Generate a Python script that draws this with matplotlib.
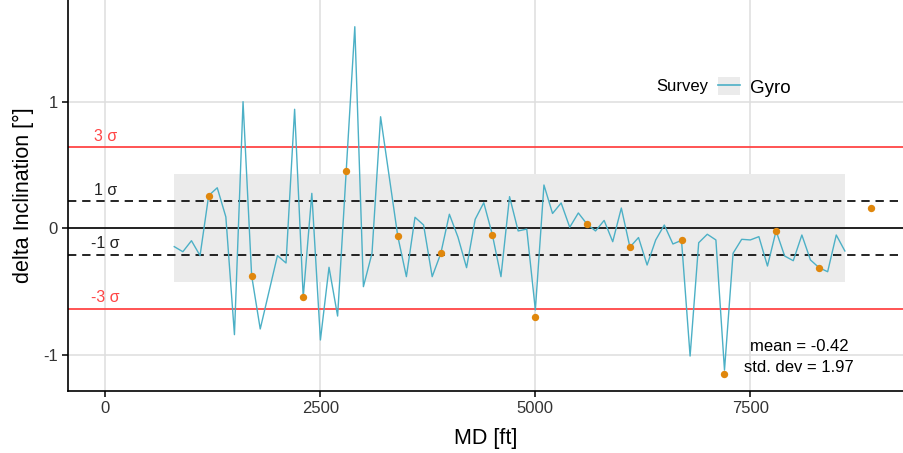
import matplotlib
matplotlib.use("Agg")
import matplotlib.pyplot as plt
import numpy as np
from matplotlib.patches import Rectangle
from matplotlib.lines import Line2D
from matplotlib.legend_handler import HandlerTuple

plt.rcParams['font.family'] = ['Liberation Sans', 'DejaVu Sans']

# Gyro survey: measured depth [ft] and delta inclination [deg]
md = np.array([800, 900, 1000, 1100, 1200, 1300, 1400, 1500, 1600, 1700,
               1800, 2000, 2100, 2200, 2300, 2400, 2500, 2600, 2700, 2800,
               2900, 3000, 3100, 3200, 3400, 3500, 3600, 3700, 3800, 3900,
               4000, 4100, 4200, 4300, 4400, 4500, 4600, 4700, 4800, 4900,
               5000, 5100, 5200, 5300, 5400, 5500, 5600, 5700, 5800, 5900,
               6000, 6100, 6200, 6300, 6400, 6500, 6600, 6700, 6800, 6900,
               7000, 7100, 7200, 7300, 7400, 7500, 7600, 7700, 7800, 7900,
               8000, 8100, 8200, 8300, 8400, 8500, 8600])
d_inc = np.array([-0.145, -0.185, -0.098, -0.216, 0.258, 0.32, 0.09, -0.84, 1.00, -0.374,
                  -0.795, -0.216, -0.274, 0.94, -0.545, 0.276, -0.882, -0.308, -0.693, 0.453,
                  1.592, -0.461, -0.197, 0.881, -0.063, -0.382, 0.087, 0.026, -0.382, -0.199,
                  0.111, -0.07, -0.311, 0.071, 0.202, -0.051, -0.382, 0.25, -0.021, -0.006,
                  -0.645, 0.342, 0.117, 0.2, 0.008, 0.121, 0.034, -0.021, 0.062, -0.106,
                  0.16, -0.149, -0.073, -0.29, -0.092, 0.026, -0.124, -0.095, -1.009, -0.114,
                  -0.047, -0.092, -1.12, -0.197, -0.087, -0.092, -0.066, -0.298, -0.021, -0.219,
                  -0.256, -0.053, -0.25, -0.311, -0.343, -0.053, -0.179])

# highlighted stations (orange dots)
md_pts = np.array([1200, 1700, 2300, 2800, 3400, 3900, 4500, 5000,
                   5600, 6100, 6700, 7200, 7800, 8300, 8900])
d_pts = np.array([0.258, -0.374, -0.545, 0.453, -0.063, -0.199, -0.051, -0.698,
                  0.034, -0.149, -0.095, -1.149, -0.021, -0.311, 0.163])

sigma = 0.213
sig_levels = [3, 1, -1, -3]
sig_labels = ["3 σ", "1 σ", "-1 σ", "-3 σ"]
mean_txt = "mean = -0.42"
std_txt = "std. dev = 1.97"

RED = "#ff4545"
CYAN = "#4cb0c6"
ORANGE = "#e0870c"

fig = plt.figure(figsize=(9.04, 4.53), dpi=100)
ax = fig.add_axes([68/904, 1 - 391/453, (904 - 68)/904, 391/453])

ax.set_xlim(-436, 9288)
ax.set_ylim(-1.285, 1.803)

# 2 sigma band over the surveyed interval
ax.fill_between([md.min(), md.max()], -2*sigma, 2*sigma, color="#ebebeb", lw=0, zorder=1)

for lev in sig_levels:
    if abs(lev) == 3:
        ax.axhline(lev*sigma, color=RED, lw=1.3, zorder=2)
    else:
        ax.axhline(lev*sigma, color="black", lw=1.2, ls=(0, (5, 3.5)), zorder=2)
ax.axhline(0, color="black", lw=1.2, zorder=2)

for lev, lab in zip(sig_levels, sig_labels):
    ax.text(0, lev*sigma + 0.03, lab, ha="center", va="bottom", fontsize=11.5,
            color=RED if abs(lev) == 3 else "#222222", zorder=3)

line, = ax.plot(md, d_inc, color=CYAN, lw=1.0, zorder=4)
ax.scatter(md_pts, d_pts, s=28, color=ORANGE, zorder=5, lw=0)

ax.text(8070, -0.93, mean_txt, ha="center", va="center", fontsize=12)
ax.text(8070, -1.10, std_txt, ha="center", va="center", fontsize=12)

ax.set_xticks([0, 2500, 5000, 7500])
ax.set_yticks([-1, 0, 1])
ax.set_yticklabels(["-1", "0", "1"])
ax.grid(True, color="#dedede", lw=1.1)
ax.set_axisbelow(True)
for s in ["top", "right"]:
    ax.spines[s].set_visible(False)
for s in ["left", "bottom"]:
    ax.spines[s].set_linewidth(1.2)
ax.tick_params(axis="both", labelsize=12, colors="black", labelcolor="#333333",
               length=4, width=1.1)
ax.set_xlabel("MD [ft]", fontsize=15.5, labelpad=8)
ax.set_ylabel("delta Inclination [°]", fontsize=15.5, labelpad=6)

# legend: title on the left, key with grey background
fig.text(656/904, 1 - 87/453, "Survey", ha="left", va="center", fontsize=12)
key_bg = Rectangle((0, 0), 1, 1, facecolor="#ebebeb", edgecolor="none")
key_ln = Line2D([], [], color=CYAN, lw=1.2)
ax.legend(handles=[(key_bg, key_ln)], labels=["Gyro"],
          handler_map={tuple: HandlerTuple(ndivide=1, pad=0)},
          loc="center left", bbox_to_anchor=(718/904, 1 - 87/453),
          bbox_transform=fig.transFigure, frameon=False, fontsize=13.5,
          borderpad=0, borderaxespad=0, handlelength=1.2, handleheight=1.1,
          handletextpad=0.5)

fig.savefig("out.png", dpi=100)
